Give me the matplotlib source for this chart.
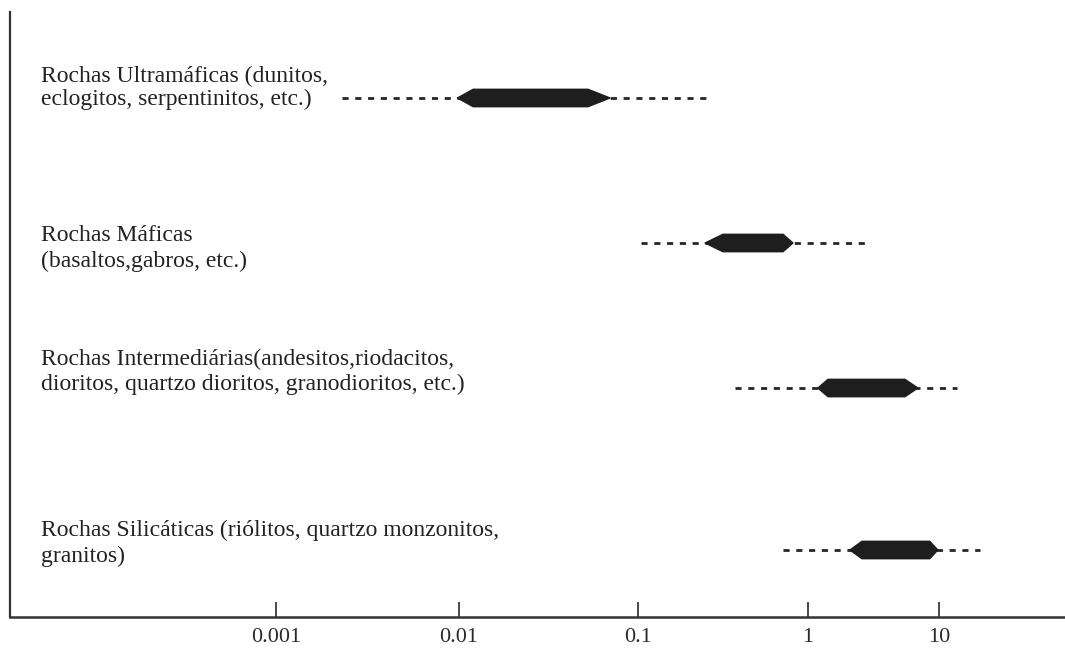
import numpy as np
import matplotlib
matplotlib.use('Agg')
import matplotlib.pyplot as plt

rock_labels = ['Rochas Ultramáficas (dunitos,\neclogitos, serpentinitos, etc.)',
               'Rochas Máficas\n(basaltos,gabros, etc.)',
               'Rochas Intermediárias(andesitos,riodacitos,\ndioritos, quartzo dioritos, granodioritos, etc.)',
               'Rochas Silicáticas (riólitos, quartzo monzonitos,\ngranitos)']
range_lo   = [0.0023, 0.104, 0.372, 0.713]   # dashed line, left end
range_hi   = [0.268, 2.92, 13.7, 20.6]       # dashed line, right end
core_lo    = [0.0098, 0.248, 1.19, 2.09]     # thick band, tip of left taper
core_lo_in = [0.0120, 0.316, 1.42, 2.58]     # thick band, full width starts
core_hi_in = [0.0526, 0.713, 5.5, 8.5]       # thick band, full width ends
core_hi    = [0.0698, 0.816, 6.9, 9.8]       # thick band, tip of right taper

tick_vals   = [0.001, 0.01, 0.1, 1, 10]
tick_labels = ['0.001', '0.01', '0.1', '1', '10']

# layout: the printed ruler is not evenly spaced, so the decades are placed
# where they were drawn (relative units along the axis)
ruler_pos = np.array([276., 459., 638., 808., 939.])
ruler_log = np.log10(tick_vals)
row_y   = [0.0, 1.0, 2.0, 3.117]
label_y = [-0.07, 1.04, 1.89, 3.07]
line_sp = [1.1, 1.3, 1.25, 1.3]
half_h  = 0.06

def fwd(x):
    lx = np.log10(np.clip(np.asarray(x, dtype=float), 1e-12, None))
    out = np.interp(lx, ruler_log, ruler_pos)
    lo = lx < ruler_log[0]
    hi = lx > ruler_log[-1]
    out = np.where(lo, ruler_pos[0] + (lx - ruler_log[0]) * (ruler_pos[1] - ruler_pos[0]), out)
    out = np.where(hi, ruler_pos[-1] + (lx - ruler_log[-1]) * (ruler_pos[-1] - ruler_pos[-2]), out)
    return out

def inv(p):
    p = np.asarray(p, dtype=float)
    out = np.interp(p, ruler_pos, ruler_log)
    lo = p < ruler_pos[0]
    hi = p > ruler_pos[-1]
    out = np.where(lo, ruler_log[0] + (p - ruler_pos[0]) / (ruler_pos[1] - ruler_pos[0]), out)
    out = np.where(hi, ruler_log[-1] + (p - ruler_pos[-1]) / (ruler_pos[-1] - ruler_pos[-2]), out)
    return 10 ** out

plt.rcParams['font.family'] = ['Liberation Serif', 'DejaVu Serif']

fig = plt.figure(figsize=(10.65, 6.51), dpi=100)
ax = fig.add_axes([10 / 1065, 34 / 651, 1055 / 1065, 605 / 651])
ax.set_xscale('function', functions=(fwd, inv))
ax.set_xlim(inv(10), inv(1065))
ax.set_ylim(3.579, -0.593)

ink = '#262626'
for i in range(len(rock_labels)):
    y = row_y[i]
    ax.plot([range_lo[i], range_hi[i]], [y, y], color=ink, lw=2.0,
            dashes=(2.2, 2.4), solid_capstyle='butt', zorder=2)
    xs = [core_lo[i], core_lo_in[i], core_hi_in[i], core_hi[i], core_hi_in[i], core_lo_in[i]]
    ys = [y, y - half_h, y - half_h, y, y + half_h, y + half_h]
    ax.fill(xs, ys, color='#1e1e1e', lw=1.0, ec='#1e1e1e', joinstyle='round', zorder=3)
    ax.text(31 / 1055, label_y[i], rock_labels[i], transform=ax.get_yaxis_transform(),
            ha='left', va='center', fontsize=17, color='#222222', linespacing=line_sp[i])

ax.set_xticks(tick_vals, labels=tick_labels)
ax.xaxis.set_minor_locator(matplotlib.ticker.NullLocator())
ax.tick_params(axis='x', direction='in', length=11, width=1.2, pad=8,
               labelsize=16, colors='#2a2a2a')
ax.set_yticks([])
ax.spines['top'].set_visible(False)
ax.spines['right'].set_visible(False)
ax.spines['left'].set_linewidth(1.6)
ax.spines['bottom'].set_linewidth(1.8)
ax.spines['left'].set_color('#333333')
ax.spines['bottom'].set_color('#333333')

fig.savefig('out.png', dpi=100)
